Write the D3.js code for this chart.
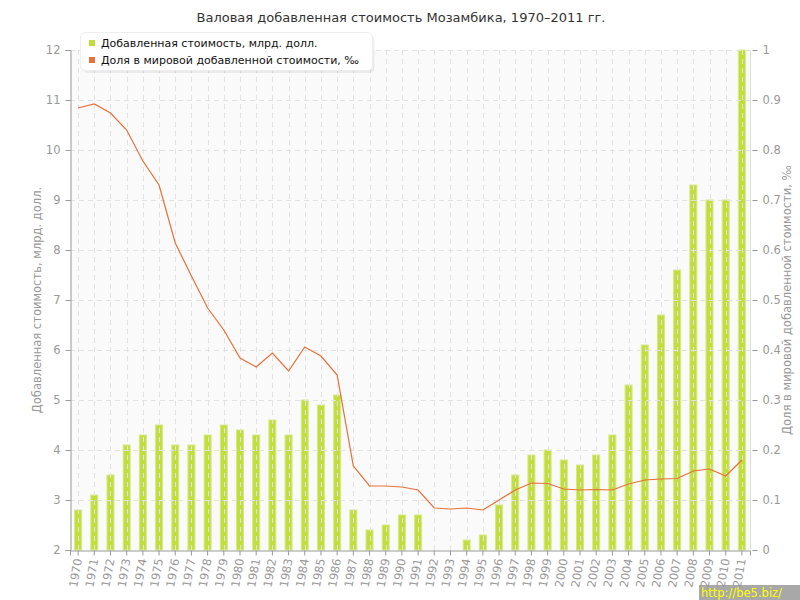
<!DOCTYPE html>
<html><head><meta charset="utf-8">
<script src="https://cdn.jsdelivr.net/npm/d3@7"></script>
<style>body{margin:0;background:#fff}svg{display:block}text{font-family:"DejaVu Sans",Verdana,sans-serif}</style>
</head><body>
<svg id="c" width="800" height="600"></svg>
<script>
const years = d3.range(1970, 2012).map(String);
const valueAdded = [2.8,3.1,3.5,4.1,4.3,4.5,4.1,4.1,4.3,4.5,4.4,4.3,4.6,4.3,5.0,4.9,5.1,2.8,2.4,2.5,2.7,2.7,2.0,2.0,2.2,2.3,2.9,3.5,3.9,4.0,3.8,3.7,3.9,4.3,5.3,6.1,6.7,7.6,9.3,9.0,9.0,12.0];
const worldShare = [0.884,0.892,0.874,0.84,0.778,0.73,0.614,0.548,0.484,0.44,0.384,0.366,0.394,0.358,0.406,0.388,0.35,0.168,0.128,0.128,0.126,0.12,0.084,0.082,0.084,0.08,0.10,0.12,0.134,0.133,0.122,0.12,0.121,0.12,0.132,0.14,0.142,0.143,0.158,0.162,0.148,0.18];
const leftTicks = [2,3,4,5,6,7,8,9,10,11,12];
const rightTicks = [0,0.1,0.2,0.3,0.4,0.5,0.6,0.7,0.8,0.9,1];
const titleText = "Валовая добавленная стоимость Мозамбика, 1970–2011 гг.";
const legendLabels = ["Добавленная стоимость, млрд. долл.", "Доля в мировой добавленной стоимости, ‰"];
const leftTitle = "Добавленная стоимость, млрд. долл.";
const rightTitle = "Доля в мировой добавленной стоимости, ‰";

const L = 70, R = 750, T = 50, B = 550;
const svg = d3.select("#c");
const x = d3.scaleBand().domain(years).range([L, R]);
const yL = d3.scaleLinear().domain([2, 12]).range([B, T]);
const yR = d3.scaleLinear().domain([0, 1]).range([B, T]);

svg.append("rect").attr("x", L).attr("y", T).attr("width", R - L).attr("height", B - T).attr("fill", "#fafafa");

// bars
const bw = 7;
svg.append("g").selectAll("rect").data(years).join("rect")
  .attr("x", d => x(d) + x.bandwidth()/2 - bw/2)
  .attr("y", (d,i) => yL(Math.min(valueAdded[i], 12)))
  .attr("width", bw)
  .attr("height", (d,i) => Math.max(0, B - yL(Math.min(valueAdded[i], 12))))
  .attr("fill", "#c2de3e").attr("stroke", "#d6ea84").attr("stroke-width", 1);

// grid
const grid = svg.append("g").attr("stroke", "#e2e2e2").attr("stroke-dasharray", "5,4").attr("stroke-width", 1);
grid.selectAll("line.v").data(years).join("line").attr("class","v")
  .attr("x1", d => Math.round(x(d) + x.bandwidth()/2) + 0.5).attr("x2", d => Math.round(x(d) + x.bandwidth()/2) + 0.5)
  .attr("y1", T).attr("y2", B);
grid.selectAll("line.h").data(leftTicks.slice(1)).join("line").attr("class","h")
  .attr("x1", L).attr("x2", R).attr("y1", d => yL(d) + 0.5).attr("y2", d => yL(d) + 0.5);

// line
svg.append("path").datum(worldShare)
  .attr("fill", "none").attr("stroke", "#e8703a").attr("stroke-width", 1.2)
  .attr("d", d3.line().x((d,i) => x(years[i]) + x.bandwidth()/2).y(d => yR(d)));

// left axis
const axL = svg.append("g").attr("transform", `translate(${L + 0.5},0)`)
  .call(d3.axisLeft(yL).tickValues(leftTicks).tickSize(5).tickPadding(5).tickFormat(d3.format("d")));
axL.select(".domain").attr("stroke", "#999");
axL.selectAll(".tick line").attr("stroke", "#999");
axL.selectAll("text").attr("fill", "#999").attr("font-size", 11.5).attr("font-family", "DejaVu Sans");

// right axis
svg.append("line").attr("x1", R + 0.5).attr("x2", R + 0.5).attr("y1", T).attr("y2", B).attr("stroke", "#ddd");
const axR = svg.append("g").attr("transform", `translate(${R + 0.5},0)`)
  .call(d3.axisRight(yR).tickValues(rightTicks).tickSize(7).tickPadding(5).tickFormat(d => d === 0 || d === 1 ? String(d) : d3.format(".1f")(d)));
axR.select(".domain").remove();
axR.selectAll(".tick line").attr("stroke", "#999").attr("x1", 2);
axR.selectAll("text").attr("fill", "#999").attr("font-size", 11.5).attr("font-family", "DejaVu Sans");

// bottom axis
const axB = svg.append("g").attr("transform", `translate(0,${B + 0.5})`)
  .call(d3.axisBottom(x).tickSize(5).tickPadding(4));
axB.select(".domain").attr("stroke", "#999");
axB.selectAll(".tick line").attr("stroke", "#999");
axB.selectAll("text").attr("fill", "#999").attr("font-size", 11.5).attr("font-family", "DejaVu Sans")
  .attr("text-anchor", "end").attr("dy", "0.35em")
  .attr("transform", "translate(0,8) rotate(-80)").attr("x", 0).attr("y", 0);

// titles
svg.append("text").attr("x", 401).attr("y", 22).attr("text-anchor", "middle")
  .attr("font-size", 13).attr("fill", "#333").text(titleText);
svg.append("text").attr("transform", `translate(41,${(T+B)/2}) rotate(-90)`).attr("text-anchor", "middle")
  .attr("font-size", 11.5).attr("fill", "#999").text(leftTitle);
svg.append("text").attr("transform", `translate(791,${(T+B)/2}) rotate(-90)`).attr("text-anchor", "middle")
  .attr("font-size", 11.5).attr("fill", "#999").text(rightTitle);

// legend
const lg = svg.append("g");
lg.append("rect").attr("x", 81.5).attr("y", 33.5).attr("width", 292).attr("height", 38).attr("rx", 5)
  .attr("fill", "#000").attr("opacity", 0.06).attr("transform", "translate(1,1.5)");
lg.append("rect").attr("x", 80.5).attr("y", 32.5).attr("width", 292).attr("height", 38).attr("rx", 5)
  .attr("fill", "#fff").attr("stroke", "#eee");
const lcols = ["#c2de3e", "#e8703a"];
legendLabels.forEach((t, i) => {
  lg.append("rect").attr("x", 89).attr("y", 40 + i*17).attr("width", 6).attr("height", 6).attr("fill", lcols[i]);
  lg.append("text").attr("x", 101).attr("y", 47 + i*17).attr("font-size", 11).attr("fill", "#111").text(t);
});

// watermark
svg.append("rect").attr("x", 699).attr("y", 585).attr("width", 101).attr("height", 15).attr("fill", "#999").attr("opacity", 0.85);
svg.append("text").attr("x", 701).attr("y", 597).attr("font-size", 11.5).attr("font-family", "DejaVu Sans Mono").attr("fill", "#ffff00").text("http://be5.biz/");
</script>
</body></html>
